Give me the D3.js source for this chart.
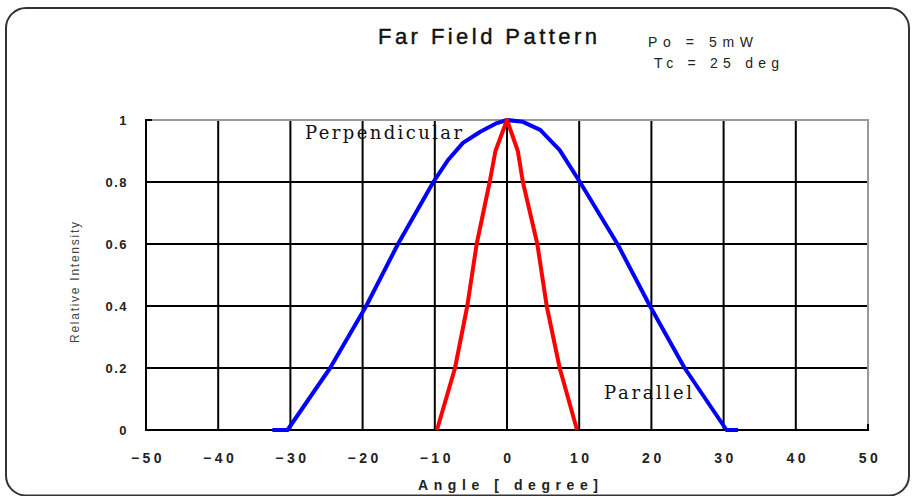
<!DOCTYPE html>
<html>
<head>
<meta charset="utf-8">
<script src="https://cdn.jsdelivr.net/npm/d3@7"></script>
<style>
body { margin: 0; background: #fff; }
svg { display: block; }
</style>
</head>
<body>
<svg id="chart"></svg>
<script>
// tick values and labels
var xTicks = [-50, -40, -30, -20, -10, 0, 10, 20, 30, 40, 50];
var xTickLabels = ["\u221250", "\u221240", "\u221230", "\u221220", "\u221210", "0", "10", "20", "30", "40", "50"];
var yTicks = [0, 0.2, 0.4, 0.6, 0.8, 1];
var yTickLabels = ["0", "0.2", "0.4", "0.6", "0.8", "1"];

// perpendicular (blue)
var perpAngle = [-32.5, -30.4, -24.5, -19.5, -15.1, -10.2, -8.2, -6.1, -3.7, -1.4, 0, 2.2, 4.6, 7.3, 10.1, 15.3, 19.8, 24.6, 30.4, 32];
var perpValue = [0, 0, 0.2, 0.4, 0.6, 0.8, 0.87, 0.926, 0.962, 0.99, 1, 0.994, 0.968, 0.903, 0.8, 0.6, 0.4, 0.2, 0, 0];

// parallel (red)
var paraAngle = [-9.7, -7.2, -5.5, -4.2, -2.4, -1.6, 0, 1.5, 2.2, 4.2, 5.5, 7.3, 9.7];
var paraValue = [0, 0.2, 0.4, 0.6, 0.8, 0.9, 1, 0.9, 0.8, 0.6, 0.4, 0.2, 0];

var width = 913;
var height = 496;

var svg = d3.select("#chart")
  .attr("width", width)
  .attr("height", height);

// outer rounded frame
svg.append("rect")
  .attr("x", 6)
  .attr("y", 8)
  .attr("width", 903)
  .attr("height", 487.5)
  .attr("rx", 20)
  .attr("fill", "none")
  .attr("stroke", "#333")
  .attr("stroke-width", 2);

var x = d3.scaleLinear().domain([-50, 50]).range([146, 868]);
var y = d3.scaleLinear().domain([0, 1]).range([430, 120]);

// grid
svg.append("g")
  .selectAll("line")
  .data(xTicks.slice(1, -1))
  .enter()
  .append("line")
  .attr("x1", function(d) { return x(d); })
  .attr("x2", function(d) { return x(d); })
  .attr("y1", y(0))
  .attr("y2", y(1))
  .attr("stroke", "#000")
  .attr("stroke-width", 2);

svg.append("g")
  .selectAll("line")
  .data(yTicks.slice(1, -1))
  .enter()
  .append("line")
  .attr("x1", x(-50))
  .attr("x2", x(50))
  .attr("y1", function(d) { return y(d); })
  .attr("y2", function(d) { return y(d); })
  .attr("stroke", "#000")
  .attr("stroke-width", 2);

// top + right frame (grey)
svg.append("path")
  .attr("d", "M" + x(-50) + "," + y(1) + "H" + x(50) + "V" + y(0))
  .attr("fill", "none")
  .attr("stroke", "#999")
  .attr("stroke-width", 2);

// left + bottom axes (black) with small end stubs
svg.append("path")
  .attr("d", "M" + (x(-50) + 6) + "," + y(1) + "H" + x(-50) + "V" + y(0) + "H" + x(50) + "V" + (y(0) - 6))
  .attr("fill", "none")
  .attr("stroke", "#000")
  .attr("stroke-width", 2);

// tick labels
svg.append("g")
  .selectAll("text")
  .data(xTicks)
  .enter()
  .append("text")
  .attr("x", function(d) { return x(d) + 2; })
  .attr("y", 463)
  .attr("text-anchor", "middle")
  .attr("font-family", "Liberation Sans, Arial, sans-serif")
  .attr("font-weight", "bold")
  .attr("font-size", 14)
  .attr("letter-spacing", 3.5)
  .attr("fill", "#222")
  .text(function(d, i) { return xTickLabels[i]; });

svg.append("g")
  .selectAll("text")
  .data(yTicks)
  .enter()
  .append("text")
  .attr("x", 128)
  .attr("y", function(d) { return y(d) + 5; })
  .attr("text-anchor", "end")
  .attr("font-family", "Liberation Sans, Arial, sans-serif")
  .attr("font-weight", "bold")
  .attr("font-size", 13)
  .attr("letter-spacing", 1.5)
  .attr("fill", "#222")
  .text(function(d, i) { return yTickLabels[i]; });

// lines
var line = d3.line()
  .x(function(d) { return x(d[0]); })
  .y(function(d) { return y(d[1]); });

svg.append("path")
  .datum(d3.zip(perpAngle, perpValue))
  .attr("d", line)
  .attr("fill", "none")
  .attr("stroke", "#0000ff")
  .attr("stroke-width", 4)
  .attr("stroke-linejoin", "round");

svg.append("path")
  .datum(d3.zip(paraAngle, paraValue))
  .attr("d", line)
  .attr("fill", "none")
  .attr("stroke", "#ff0000")
  .attr("stroke-width", 4)
  .attr("stroke-linejoin", "round");

// titles and labels
svg.append("text")
  .attr("x", 378)
  .attr("y", 44)
  .attr("font-family", "Liberation Sans, Arial, sans-serif")
  .attr("font-size", 22)
  .attr("textLength", 219)
  .attr("lengthAdjust", "spacing")
  .attr("stroke", "#111")
  .attr("stroke-width", 0.4)
  .attr("fill", "#111")
  .text("Far Field Pattern");

svg.append("text")
  .attr("x", 648)
  .attr("y", 47)
  .attr("font-family", "Liberation Sans, Arial, sans-serif")
  .attr("font-size", 14)
  .attr("textLength", 105)
  .attr("lengthAdjust", "spacing")
  .attr("fill", "#222")
  .text("Po = 5mW");

svg.append("text")
  .attr("x", 654)
  .attr("y", 68)
  .attr("font-family", "Liberation Sans, Arial, sans-serif")
  .attr("font-size", 14)
  .attr("textLength", 125)
  .attr("lengthAdjust", "spacing")
  .attr("fill", "#222")
  .text("Tc = 25 deg");

svg.append("text")
  .attr("x", 418)
  .attr("y", 490)
  .attr("font-family", "Liberation Sans, Arial, sans-serif")
  .attr("font-weight", "bold")
  .attr("font-size", 14)
  .attr("textLength", 180)
  .attr("lengthAdjust", "spacing")
  .attr("fill", "#222")
  .text("Angle [ degree]");

svg.append("text")
  .attr("transform", "translate(79,343) rotate(-90)")
  .attr("font-family", "Liberation Sans, Arial, sans-serif")
  .attr("font-size", 12)
  .attr("textLength", 121)
  .attr("lengthAdjust", "spacing")
  .attr("fill", "#444")
  .text("Relative Intensity");

svg.append("text")
  .attr("x", 305)
  .attr("y", 139)
  .attr("font-family", "DejaVu Serif, serif")
  .attr("font-size", 18)
  .attr("textLength", 157)
  .attr("lengthAdjust", "spacing")
  .attr("fill", "#111")
  .text("Perpendicular");

svg.append("text")
  .attr("x", 604)
  .attr("y", 399)
  .attr("font-family", "DejaVu Serif, serif")
  .attr("font-size", 18)
  .attr("textLength", 88)
  .attr("lengthAdjust", "spacing")
  .attr("fill", "#111")
  .text("Parallel");
</script>
</body>
</html>
